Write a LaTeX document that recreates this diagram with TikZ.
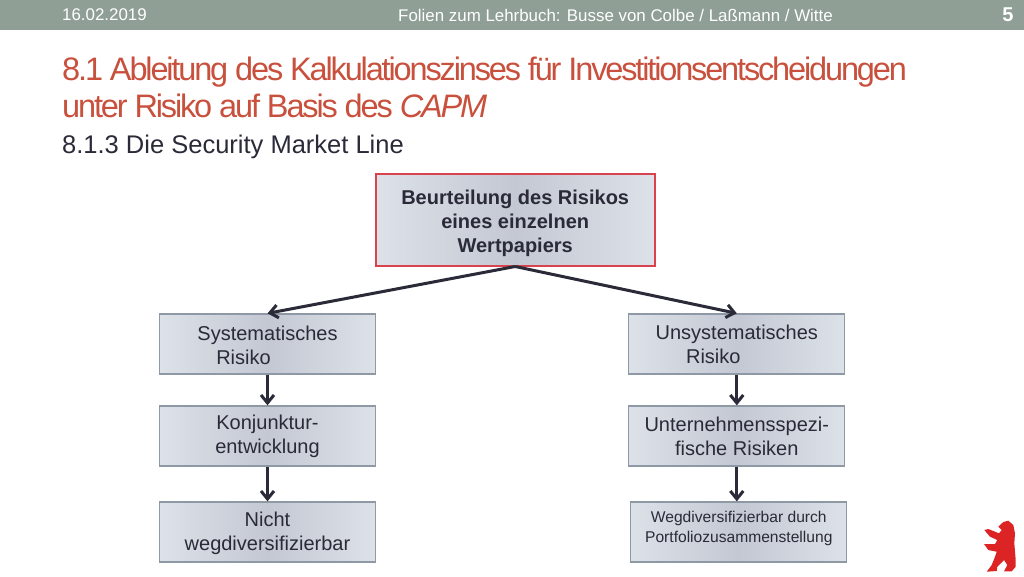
\documentclass[tikz,border=0pt]{standalone}
\usepackage{fontspec}
\setmainfont{Liberation Sans}
\newfontfamily\ttlfont[LetterSpace=-6.6]{Liberation Sans}
\usetikzlibrary{arrows.meta}
\definecolor{band}{HTML}{8F9F95}
\definecolor{ttlred}{HTML}{C8503C}
\definecolor{ink}{HTML}{2A2A38}
\definecolor{bxlight}{HTML}{DDE1E8}
\definecolor{bxdark}{HTML}{C3C8D3}
\definecolor{bxline}{HTML}{8F98A5}
\definecolor{bxred}{HTML}{D8434E}
\definecolor{bear}{HTML}{DC2424}
\newcommand{\shft}[1]{\rule{0pt}{#1}}
\begin{document}
\begin{tikzpicture}[x=1pt,y=-1pt,
  bx/.style={draw=bxline,line width=1.3pt,left color=bxlight,right color=bxlight,middle color=bxdark,
    minimum width=216pt,minimum height=60pt,inner sep=0pt,align=center,text=ink,
    font=\fontsize{20}{24}\selectfont},
  bxtop/.style={bx,draw=bxred,line width=1.6pt,minimum width=279pt,minimum height=92pt,
    font=\fontsize{20}{24}\selectfont\bfseries},
  ar/.style={ink,line width=3pt,-{Straight Barb[length=8pt,width=13pt,line width=3pt]}},
  hd/.style={white,inner sep=0pt,font=\fontsize{16.9}{20}\selectfont},
  ttl/.style={anchor=base west,inner sep=0pt,text=ttlred,font=\fontsize{32.5}{36}\ttlfont}]
\useasboundingbox (0,0) rectangle (1024,576);
%------------- header band
\fill[band] (0,0) rectangle (1024,30);
\node[hd,anchor=west] (date) at (62,15) {16.02.2019};
\node[hd] (foot) at (615.5,15) {Folien zum Lehrbuch: Busse von Colbe / Laßmann / Witte};
\node[hd,font=\fontsize{20}{24}\selectfont\bfseries] (num) at (1008,15) {5};
%------------- title
\node[ttl] (ttla) at (62,80) {8.1 Ableitung des Kalkulationszinses für Investitionsentscheidungen};
\node[ttl] (ttlb) at (62,117) {unter Risiko auf Basis des \textit{CAPM}};
\node[anchor=base west,inner sep=0pt,text=ink,font=\fontsize{25.5}{30}\selectfont] (sub) at (62,153) {8.1.3 Die Security Market Line};
%------------- boxes
\node[bxtop] (root) at (515.2,219.7) {\shft{21.5pt}Beurteilung des Risikos\\eines einzelnen\\Wertpapiers};
\node[bx] (sys) at (267.5,344) {\shft{18pt}Systematisches\\\hspace*{-48pt}Risiko};
\node[bx] (kon) at (267.5,436) {\shft{16pt}Konjunktur-\\entwicklung};
\node[bx] (nwd) at (267.5,532) {\shft{18pt}Nicht\\wegdiversifizierbar};
\node[bx] (uns) at (736.8,344) {\shft{16pt}Unsystematisches\\\hspace*{-47pt}Risiko};
\node[bx] (unt) at (736.8,436) {Unternehmensspezi-\\fische Risiken};
\node[bx,font=\fontsize{15.6}{19.5}\selectfont] (wgd) at (738.8,532) {Wegdiversifizierbar durch\\Portfoliozusammenstellung\rule[-10pt]{0pt}{0pt}};
%------------- connectors
\draw[ar] (root.south) -- (sys.north);
\draw[ar] (root.south) -- (uns.north);
\draw[ar] (sys) -- (kon);
\draw[ar] (kon) -- (nwd);
\draw[ar] (uns) -- (unt);
\draw[ar] (unt.south) -- (unt.south |- wgd.north);
%------------- bear
\fill[bear] (1003.3,522) -- (1008.3,520.7) -- (1013.3,525) -- (1015,533.3) -- (1014.3,543.3) -- (1015.7,560)
  -- (1015.7,566.7) -- (1011.7,571.3) -- (1004,571.3) -- (1007.3,565) -- (1004,560) -- (997.3,566.7)
  -- (996.7,571) -- (986.7,571.7) -- (991.7,565) -- (995,556.7) -- (996.7,551.7) -- (988.3,550)
  -- (984,544) -- (995,544) -- (997.3,540) -- (990,536.7) -- (984.3,530) -- (988.3,529)
  -- (999,533.3) -- (1001.7,530) -- (998.3,526.7) -- cycle;
\end{tikzpicture}
\end{document}
